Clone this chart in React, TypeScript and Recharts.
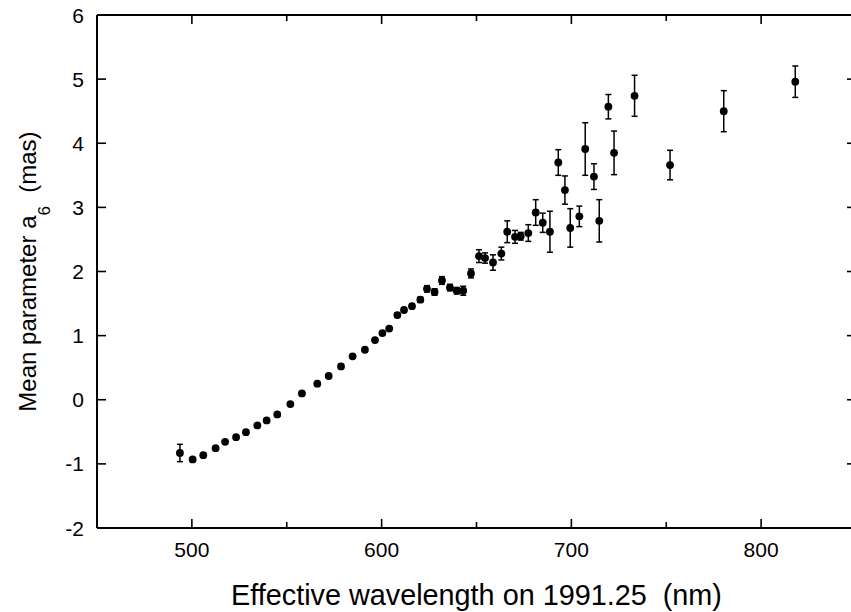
import React from 'react';
import { ScatterChart, Scatter, XAxis, YAxis, ErrorBar, ReferenceLine } from 'recharts';

const wavelength = [
  493.7, 500.4, 506.0, 512.5, 517.5, 523.3, 528.5, 534.5, 539.4, 545.0,
  551.9, 558.0, 566.1, 572.1, 578.6, 584.7, 591.2, 596.5, 600.4, 604.0,
  608.3, 611.8, 616.0, 620.4, 623.9, 627.9, 631.8, 636.0, 639.6, 643.0,
  647.1, 651.3, 654.5, 658.7, 663.1, 666.2, 670.3, 673.3, 677.3, 681.2,
  684.9, 688.7, 693.1, 696.6, 699.4, 704.2, 707.3, 711.9, 714.7, 719.5,
  722.5, 733.3, 752.0, 780.3, 818.0,
];
const meanA6 = [
  -0.83, -0.93, -0.865, -0.755, -0.656, -0.583, -0.505, -0.40, -0.323, -0.229,
  -0.068, 0.099, 0.25, 0.37, 0.52, 0.677, 0.78, 0.93, 1.04, 1.11,
  1.32, 1.40, 1.46, 1.56, 1.73, 1.68, 1.86, 1.75, 1.70, 1.70,
  1.97, 2.24, 2.21, 2.14, 2.28, 2.62, 2.54, 2.55, 2.60, 2.92,
  2.76, 2.62, 3.70, 3.27, 2.68, 2.86, 3.91, 3.48, 2.79, 4.57,
  3.85, 4.74, 3.66, 4.50, 4.96,
];
const a6Error = [
  0.135, 0.02, 0.02, 0.02, 0.02, 0.02, 0.02, 0.02, 0.02, 0.02,
  0.02, 0.02, 0.02, 0.02, 0.02, 0.02, 0.02, 0.02, 0.02, 0.02,
  0.03, 0.03, 0.03, 0.04, 0.05, 0.05, 0.06, 0.05, 0.05, 0.07,
  0.07, 0.1, 0.08, 0.12, 0.1, 0.17, 0.1, 0.06, 0.13, 0.2,
  0.15, 0.32, 0.2, 0.22, 0.3, 0.16, 0.41, 0.2, 0.33, 0.19,
  0.34, 0.32, 0.23, 0.32, 0.245,
];
const xTicks = [450, 500, 550, 600, 650, 700, 750, 800, 850];
const yTicks = [-2, -1, 0, 1, 2, 3, 4, 5, 6];
const xDomain = [450, 850];
const yDomain = [-2, 6];

const data = wavelength.map((w, i) => ({ wl: w, a6: meanA6[i], err: a6Error[i] }));

const FONT = '"Liberation Sans", Arial, Helvetica, sans-serif';
const MAJOR = 9;
const MINOR = 6;

// layout
const CHART_W = 860;
const CHART_H = 612;
const MARGIN = { top: 15, right: 4, bottom: 0, left: 0 };
const Y_AXIS_W = 97;
const X_AXIS_H = 84;
const PLOT_W = CHART_W - MARGIN.left - MARGIN.right - Y_AXIS_W;
const PLOT_H = CHART_H - MARGIN.top - MARGIN.bottom - X_AXIS_H;

// bottom axis tick: inward tick at bottom + mirrored tick on the top frame edge
const BottomTick = (props: any) => {
  const { x, y, payload } = props;
  const v = payload.value;
  const major = v % 100 === 0;
  const len = major ? MAJOR : MINOR;
  const top = y - PLOT_H;
  return (
    <g>
      <line x1={x} x2={x} y1={y} y2={y - len} stroke="#000" strokeWidth={1.6} />
      <line x1={x} x2={x} y1={top} y2={top + len} stroke="#000" strokeWidth={1.6} />
      {major ? (
        <text x={x} y={y + 29} textAnchor="middle" fontFamily={FONT} fontSize={21} fill="#000">
          {v}
        </text>
      ) : null}
    </g>
  );
};

// left axis tick: inward tick at left + mirrored tick on the right frame edge
const LeftTick = (props: any) => {
  const { x, y, payload } = props;
  const right = x + PLOT_W;
  return (
    <g>
      <line x1={x} x2={x + MAJOR} y1={y} y2={y} stroke="#000" strokeWidth={1.6} />
      <line x1={right} x2={right - MAJOR} y1={y} y2={y} stroke="#000" strokeWidth={1.6} />
      <text x={x - 13} y={y + 7.5} textAnchor="end" fontFamily={FONT} fontSize={21} fill="#000">
        {payload.value}
      </text>
    </g>
  );
};

const XLabel = (props: any) => {
  const vb = props.viewBox;
  return (
    <text
      x={vb.x + vb.width / 2}
      y={vb.y + 77}
      textAnchor="middle"
      fontFamily={FONT}
      fontSize={28.8}
      fill="#000"
      style={{ whiteSpace: 'pre' }}
    >
      {'Effective wavelength on 1991.25  (nm)'}
    </text>
  );
};

const YLabel = (props: any) => {
  const vb = props.viewBox;
  const cx = vb.x + 36;
  const cy = vb.y + vb.height / 2;
  return (
    <text
      x={cx}
      y={cy}
      transform={`rotate(-90 ${cx} ${cy})`}
      textAnchor="middle"
      fontFamily={FONT}
      fontSize={24}
      fill="#000"
      style={{ whiteSpace: 'pre' }}
    >
      {'Mean parameter a'}
      <tspan fontSize={17} dy={14}>6</tspan>
      <tspan dy={-14}>{'  (mas)'}</tspan>
    </text>
  );
};

const Dot = (props: any) => <circle cx={props.cx} cy={props.cy} r={3.9} fill="#000" />;

export default function App() {
  return (
    <div style={{ position: 'absolute', left: 0, top: 0, width: 851, height: 612, overflow: 'hidden', background: '#fff' }}>
      <ScatterChart width={CHART_W} height={CHART_H} margin={MARGIN} data={data}>
        <XAxis
          type="number"
          dataKey="wl"
          domain={xDomain}
          ticks={xTicks}
          height={X_AXIS_H}
          tickSize={0}
          tickMargin={0}
          tickLine={false}
          tick={BottomTick}
          axisLine={{ stroke: '#000', strokeWidth: 2 }}
          allowDataOverflow
          interval={0}
          label={{ content: XLabel }}
        />
        <YAxis
          type="number"
          dataKey="a6"
          domain={yDomain}
          ticks={yTicks}
          width={Y_AXIS_W}
          tickSize={0}
          tickMargin={0}
          tickLine={false}
          tick={LeftTick}
          axisLine={{ stroke: '#000', strokeWidth: 2 }}
          allowDataOverflow
          interval={0}
          label={{ content: YLabel }}
        />
        <ReferenceLine y={yDomain[1]} stroke="#000" strokeWidth={2.2} />
        <ReferenceLine x={xDomain[1]} stroke="#000" strokeWidth={2.2} />
        <Scatter dataKey="a6" data={data} shape={Dot} isAnimationActive={false}>
          <ErrorBar dataKey="err" direction="y" width={3} strokeWidth={1.5} stroke="#000" />
        </Scatter>
      </ScatterChart>
    </div>
  );
}
